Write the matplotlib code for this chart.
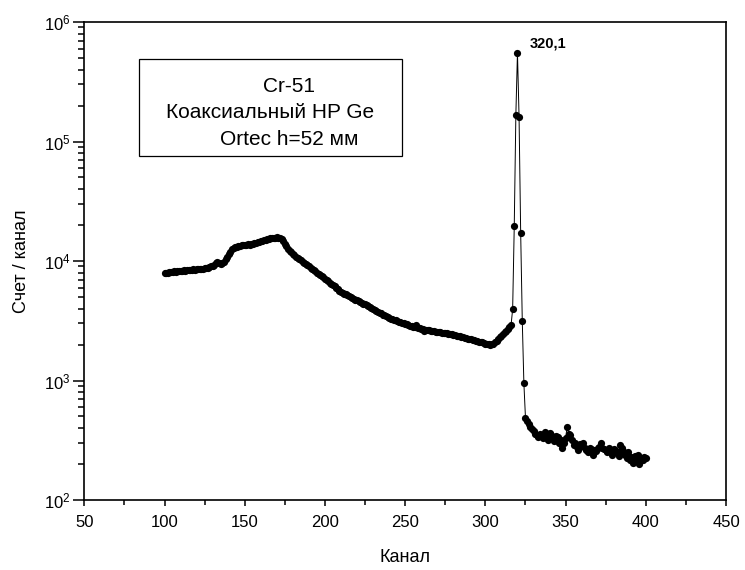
import numpy as np
import matplotlib
matplotlib.use('Agg')
import matplotlib.pyplot as plt
from matplotlib.patches import Rectangle
from matplotlib.ticker import MultipleLocator, LogLocator, NullFormatter

plt.rcParams['font.family'] = ['Liberation Sans', 'DejaVu Sans']
plt.rcParams['mathtext.fontset'] = 'custom'
plt.rcParams['mathtext.rm'] = 'Liberation Sans'
plt.rcParams['mathtext.it'] = 'Liberation Sans:italic'
plt.rcParams['mathtext.bf'] = 'Liberation Sans:bold'

# spectrum, channels 100..400
channels = list(range(100, 401))

counts_100 = [7900, 8000, 7950, 8100, 8050, 8150, 8200, 8150, 8250, 8200,
              8300, 8250, 8350, 8300, 8400, 8350, 8450, 8400, 8500, 8450,
              8550, 8500, 8600, 8650, 8600, 8700, 8800, 8750, 8900, 9000]
counts_130 = [9100, 9300, 9600, 9900, 9700, 9500, 9600, 9900, 10300, 10800,
              11400, 12000, 12500, 12800, 13000, 13200, 13300, 13400, 13500, 13600,
              13500, 13700, 13800, 13700, 13900, 14000, 14100, 14200, 14300, 14500,
              14600, 14800, 14900, 15100, 15300, 15400, 15500, 15600, 15700, 15600,
              15800, 15600, 15500, 15200, 14700, 14000, 13300, 12700, 12200, 11800]
counts_180 = [11500, 11200, 10900, 10600, 10300, 10100, 9900, 9700, 9400, 9200,
              9000, 8800, 8550, 8400, 8200, 8000, 7800, 7650, 7500, 7300,
              7100, 6950, 6800, 6600, 6450, 6300, 6150, 6000, 5850, 5650,
              5500, 5400, 5300, 5250, 5150, 5100, 5000, 4900, 4850, 4750,
              4700, 4600, 4550, 4450, 4400, 4350, 4250, 4200, 4100, 4050]
counts_230 = [4000, 3900, 3850, 3750, 3700, 3650, 3550, 3500, 3450, 3400,
              3350, 3300, 3250, 3200, 3180, 3150, 3100, 3060, 3030, 3000,
              2980, 2950, 2920, 2880, 2850, 2830, 2800, 2900, 2760, 2740,
              2720, 2700, 2620, 2670, 2650, 2640, 2620, 2600, 2590, 2570,
              2560, 2540, 2530, 2520, 2500, 2490, 2480, 2460, 2450, 2430]
counts_280 = [2420, 2400, 2380, 2360, 2340, 2320, 2300, 2280, 2260, 2240,
              2230, 2210, 2200, 2180, 2160, 2150, 2120, 2100, 2080, 2060,
              2040, 2020, 2010, 2000, 2020, 2040, 2080, 2150, 2220, 2300,
              2380, 2450, 2530, 2600, 2700, 2800, 2900, 3950, 19600, 167000,
              553000, 160000, 17300, 3170, 950, 485, 460, 430, 410, 395]
counts_330 = [380, 360, 350, 335, 360, 345, 330, 370, 340, 320,
              365, 350, 330, 310, 345, 335, 300, 320, 270, 300,
              330, 410, 360, 350, 320, 290, 300, 280, 260, 295,
              285, 300, 270, 260, 250, 275, 265, 240, 260, 255,
              270, 280, 300, 275, 265, 260, 250, 270, 255, 240,
              265, 260, 250, 235, 290, 270, 255, 240, 225, 250,
              215, 230, 205, 235, 220, 240, 200, 225, 215, 230,
              225]

counts = counts_100 + counts_130 + counts_180 + counts_230 + counts_280 + counts_330

info_lines = ['Cr-51', 'Коаксиальный HP Ge', 'Ortec h=52 мм']
peak_label = '320,1'
peak_channel = 320

fig = plt.figure(figsize=(7.45, 5.7), dpi=100)
ax = fig.add_axes([0.1132, 0.1228, 0.8613, 0.8386])

ax.plot(channels, counts, color='black', linewidth=0.7,
        marker='o', markersize=5.2, markerfacecolor='black',
        markeredgecolor='black', markeredgewidth=0)

ax.set_yscale('log')
ax.set_xlim(50, 450)
ax.set_ylim(1e2, 1e6)

ax.xaxis.set_major_locator(MultipleLocator(50))
ax.xaxis.set_minor_locator(MultipleLocator(25))
ax.yaxis.set_major_locator(LogLocator(base=10))
ax.yaxis.set_minor_locator(LogLocator(base=10, subs=np.arange(2, 10)))
ax.yaxis.set_minor_formatter(NullFormatter())

for s in ax.spines.values():
    s.set_linewidth(1.2)

ax.tick_params(axis='both', which='both', direction='out', top=False, right=False,
               width=1.1, labelsize=12)
ax.tick_params(axis='x', which='major', length=4.5, pad=6)
ax.tick_params(axis='x', which='minor', length=3.5)
ax.tick_params(axis='y', which='major', length=8, pad=2)
ax.tick_params(axis='y', which='minor', length=4)

ax.set_xlabel('Канал', fontsize=13, labelpad=14)
ax.set_ylabel('Счет / канал', fontsize=13, labelpad=10)

# info box
bx, by, bw, bh = 0.0857, 0.7197, 0.4089, 0.2023
ax.add_patch(Rectangle((bx, by), bw, bh, transform=ax.transAxes,
                       fill=False, edgecolor='black', linewidth=0.9))
cx = bx + bw / 2
line_x = [cx + 0.07 * bw, cx, cx + 0.073 * bw]
line_y = [0.866, 0.810, 0.755]
for txt, lx, ly in zip(info_lines, line_x, line_y):
    ax.text(lx, ly, txt, transform=ax.transAxes, ha='center', va='center',
            fontsize=15)

ax.annotate(peak_label, xy=(peak_channel, counts[channels.index(peak_channel)]),
            xytext=(9, 6.5), textcoords='offset points',
            ha='left', va='center', fontsize=10.5, fontweight='bold')

fig.savefig('out.png', dpi=100)
